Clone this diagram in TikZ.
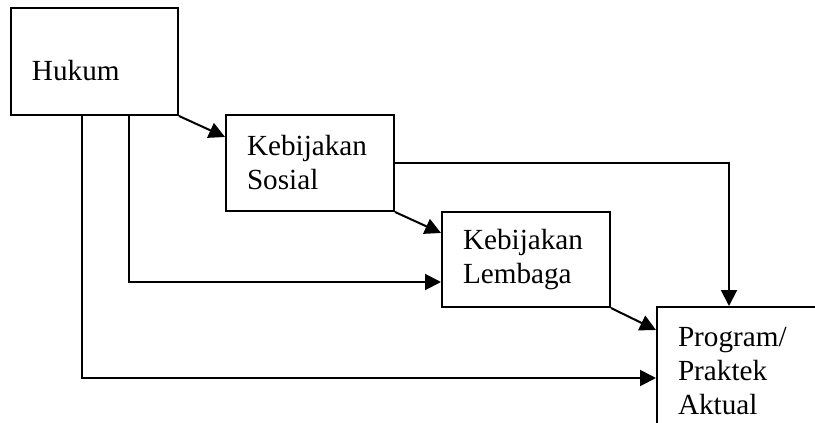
\documentclass[tikz,border=0pt]{standalone}
\usepackage{fontspec}
\setmainfont{Liberation Serif}
\usetikzlibrary{arrows.meta}

\begin{document}
\begin{tikzpicture}[x=0.5pt,y=-0.5pt,
					-{Triangle[length=8pt,width=8pt]},
					line width=1pt,
					box node/.style={draw,-,rectangle,anchor=north west,
						inner xsep=10.5pt,inner ysep=0pt,align=left,
						font=\fontsize{14.6}{17}\selectfont}]

  \useasboundingbox (0,0) rectangle (815,423);
  \clip (0,0) rectangle (815,423);

  \node[box node,text width=62.5pt,minimum height=53.5pt,text height=18.5pt,text depth=0pt] (hukum) at (10,7) {Hukum};
  \node[box node,text width=63pt,minimum height=48pt] (sosial) at (225,114) {Kebijakan\\Sosial};
  \node[box node,text width=63pt,minimum height=47.5pt] (lembaga) at (441,211) {Kebijakan\\Lembaga};
  \node[box node,text width=79pt,minimum height=64pt] (program) at (656,306) {Program/\\Praktek\\Aktual};

  \draw (hukum.south east) -- ([yshift=-11.5pt]sosial.north west);
  \draw (sosial.south east) -- ([yshift=-11pt]lembaga.north west);
  \draw (lembaga.south east) -- ([yshift=-12pt]program.north west);
  \draw (sosial.east) -| ([xshift=36.5pt]program.north west);
  \draw ([xshift=59.5pt]hukum.south west) |- ([yshift=-35.5pt]lembaga.north west);
  \draw ([xshift=36pt]hukum.south west) |- ([yshift=-36pt]program.north west);
\end{tikzpicture}
\end{document}
